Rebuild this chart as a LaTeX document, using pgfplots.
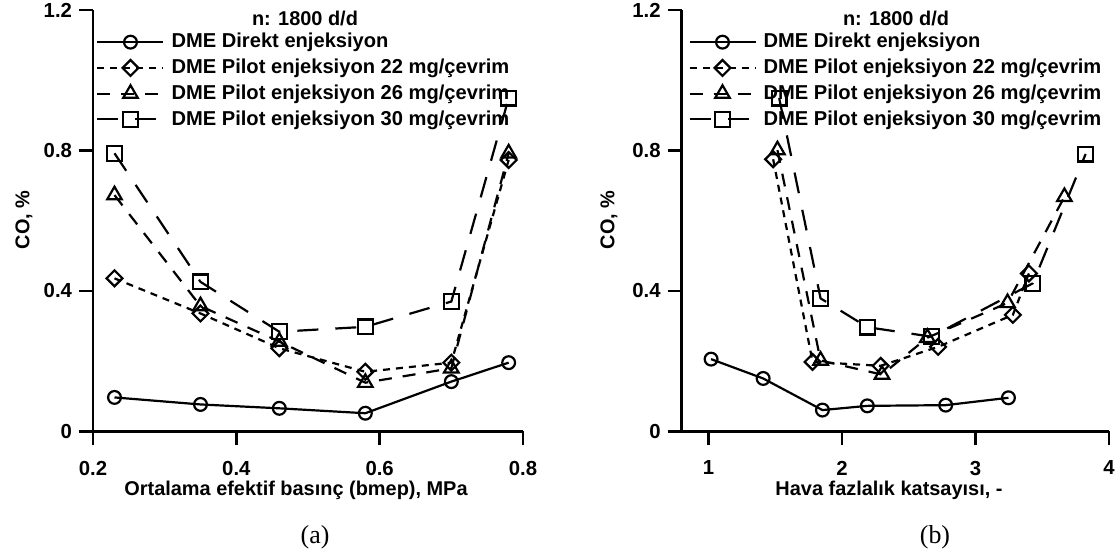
\documentclass[border=0pt]{standalone}
\usepackage{fontspec}
\setmainfont{Liberation Sans}[BoldFont={Liberation Sans Bold}]
\newfontfamily\capfont{Liberation Serif}
\usepackage{pgfplots}
\pgfplotsset{compat=1.18}

% CO emissions, DME direct injection vs. pilot injection at 1800 rpm
\pgfplotstableread{
x y
0.23 0.097
0.35 0.077
0.46 0.066
0.58 0.052
0.70 0.142
0.78 0.196
}\bmepDirect
\pgfplotstableread{
x y
0.23 0.436
0.35 0.336
0.46 0.237
0.58 0.170
0.70 0.196
0.78 0.773
}\bmepPilotA
\pgfplotstableread{
x y
0.23 0.673
0.35 0.357
0.46 0.256
0.58 0.139
0.70 0.180
0.78 0.792
}\bmepPilotB
\pgfplotstableread{
x y
0.23 0.792
0.35 0.426
0.46 0.284
0.58 0.298
0.70 0.370
0.78 0.949
}\bmepPilotC

\pgfplotstableread{
x y
1.02 0.206
1.41 0.151
1.854 0.061
2.19 0.073
2.777 0.075
3.247 0.096
}\lamDirect
\pgfplotstableread{
x y
1.485 0.775
1.78 0.198
2.29 0.187
2.72 0.241
3.28 0.332
3.40 0.450
}\lamPilotA
\pgfplotstableread{
x y
1.517 0.801
1.84 0.202
2.30 0.162
2.64 0.267
3.24 0.366
3.666 0.668
}\lamPilotB
\pgfplotstableread{
x y
1.53 0.949
1.84 0.379
2.19 0.297
2.67 0.270
3.43 0.422
3.825 0.790
}\lamPilotC

\pgfplotsset{
  coaxis/.style={
    scale only axis,
    height=210.75bp,
    ymin=0, ymax=1.2,
    ytick={0,0.4,0.8,1.2},
    axis x line=bottom, axis y line=left,
    axis line style={-, line width=1.3bp, black},
    tick style={line width=1.3bp, black},
    tick align=outside,
    major tick length=7bp,
    clip=false,
    tick label style={font=\bfseries\fontsize{10.2}{12}\selectfont},
    /pgf/number format/assume math mode=true,
    yticklabel style={/pgf/number format/fixed, /pgf/number format/precision=1},
    xticklabel style={/pgf/number format/fixed, /pgf/number format/precision=1,
      yshift=-4.2bp},
    legend cell align=left,
    legend style={draw=none, fill=none, at={(0,1)}, anchor=north west,
      inner sep=0pt, font=\bfseries\fontsize{10.1}{12}\selectfont, row sep=0.1bp,
      /tikz/every odd column/.append style={column sep=1.5bp}},
    legend image code/.code={\draw[mark repeat=2,mark phase=2,#1]
      plot coordinates {(0bp,0bp) (16.5bp,0bp) (33bp,0bp)};},
  },
  sDirect/.style={black, line width=1.1bp, solid, mark=o,
    mark size=3.2bp, mark options={solid, line width=1.1bp}},
  sPilotA/.style={black, line width=1.1bp, dash pattern=on 3.5bp off 3bp,
    mark=square, mark size=2.8bp, mark options={solid, rotate=45, line width=1.1bp}},
  sPilotB/.style={black, line width=1.1bp, dash pattern=on 6.5bp off 5.5bp,
    mark=triangle, mark size=4.2bp, mark options={solid, line width=1.1bp}},
  sPilotC/.style={black, line width=1.1bp, dash pattern=on 10.5bp off 8.5bp,
    mark=square, mark size=3.7bp, mark options={solid, line width=1.1bp}},
}

\begin{document}
\begin{tikzpicture}
\useasboundingbox (0,0) rectangle (558.5bp,280bp);

% (a) against brake mean effective pressure
\begin{axis}[coaxis, at={(46.5bp,64.25bp)}, anchor=south west,
  width=215bp, xmin=0.2, xmax=0.8, xtick={0.2,0.4,0.6,0.8},
  legend style={xshift=1.5bp, yshift=-9.5bp}]
\addplot[sDirect] table {\bmepDirect};
\addplot[sPilotA] table {\bmepPilotA};
\addplot[sPilotB] table {\bmepPilotB};
\addplot[sPilotC] table {\bmepPilotC};
\legend{DME Direkt enjeksiyon, DME Pilot enjeksiyon 22 mg/çevrim,
  DME Pilot enjeksiyon 26 mg/çevrim, DME Pilot enjeksiyon 30 mg/çevrim}
\end{axis}

% (b) against excess air ratio
\begin{axis}[coaxis, at={(340.85bp,64.25bp)}, anchor=south west,
  width=213.65bp, xmin=0.8, xmax=4, xtick={1,2,3,4},
  legend style={xshift=3.15bp, yshift=-9.5bp}]
\addplot[sDirect] table {\lamDirect};
\addplot[sPilotA] table {\lamPilotA};
\addplot[sPilotB] table {\lamPilotB};
\addplot[sPilotC] table {\lamPilotC};
\legend{DME Direkt enjeksiyon, DME Pilot enjeksiyon 22 mg/çevrim,
  DME Pilot enjeksiyon 26 mg/çevrim, DME Pilot enjeksiyon 30 mg/çevrim}
\end{axis}

\node[font=\bfseries] at (152.5bp,270.75bp) {n: 1800 d/d};
\node[font=\bfseries] at (448bp,270.75bp) {n: 1800 d/d};
\node[font=\bfseries, rotate=90] at (12bp,170bp) {CO, \%};
\node[font=\bfseries, rotate=90] at (304.5bp,170bp) {CO, \%};
\node[font=\bfseries] at (148bp,35bp) {Ortalama efektif basınç (bmep), MPa};
\node[font=\bfseries] at (444.5bp,35bp) {Hava fazlalık katsayısı, -};
\node[font=\capfont\fontsize{13}{15}\selectfont] at (157.5bp,11.5bp) {(a)};
\node[font=\capfont\fontsize{13}{15}\selectfont] at (467.5bp,11.5bp) {(b)};
\end{tikzpicture}
\end{document}
